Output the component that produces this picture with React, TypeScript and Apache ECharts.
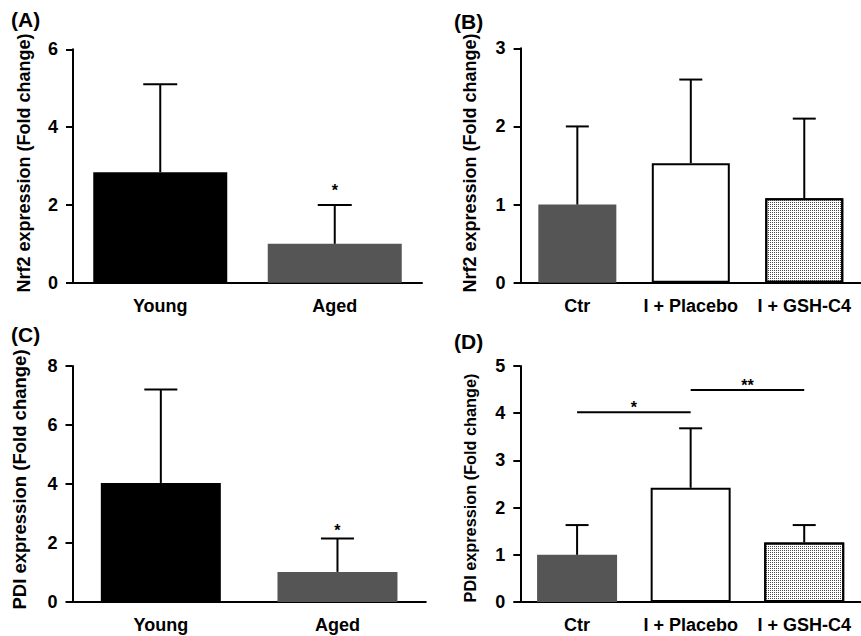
import React, { useEffect, useRef } from "react";
import * as echarts from "echarts";

const FONT = "'Liberation Sans', Arial, Helvetica, sans-serif";

// Categories
const ageCats = ["Young", "Aged"];
const treatCats = ["Ctr", "I + Placebo", "I + GSH-C4"];

// (A) Nrf2, young vs aged
const nrf2AgeMean = [2.84, 1.0];
const nrf2AgeSD = [2.26, 1.0];
const nrf2AgeTicks = [0, 2, 4, 6];
const nrf2AgeStars = [{ cat: 1, y: 2.47, text: "*" }];

// (B) Nrf2, treatments
const nrf2TreatMean = [1.0, 1.53, 1.08];
const nrf2TreatSD = [1.0, 1.07, 1.02];
const nrf2TreatTicks = [0, 1, 2, 3];

// (C) PDI, young vs aged
const pdiAgeMean = [4.03, 1.02];
const pdiAgeSD = [3.17, 1.13];
const pdiAgeTicks = [0, 2, 4, 6, 8];
const pdiAgeStars = [{ cat: 1, y: 2.55, text: "*" }];

// (D) PDI, treatments
const pdiTreatMean = [1.0, 2.42, 1.26];
const pdiTreatSD = [0.63, 1.26, 0.37];
const pdiTreatTicks = [0, 1, 2, 3, 4, 5];
const pdiTreatBrackets = [
  { from: 0, to: 1, y: 4.02, text: "*" },
  { from: 1, to: 2, y: 4.49, text: "**" },
];

const ageStyles = [
  { color: "#000000" },
  { color: "#555555" },
];
const treatStyles = [
  { color: "#555555" },
  { color: "#ffffff", borderColor: "#000", borderWidth: 2 },
  {
    color: "#ffffff",
    borderColor: "#000",
    borderWidth: 2,
    decal: {
      symbol: "rect",
      symbolSize: 1,
      dashArrayX: [1, 1],
      dashArrayY: [1, 1],
      color: "#4a4a4a",
      rotation: 0,
    },
  },
];

function axisPair(
  idx: number,
  cats: string[],
  ticks: number[],
  name: string,
  nameGap: number,
  nameSize: number,
  namePad: number[]
) {
  const xAxis = {
    type: "category",
    gridIndex: idx,
    data: cats,
    axisLine: { lineStyle: { color: "#000", width: 2 } },
    axisTick: { alignWithLabel: true, length: 7, lineStyle: { color: "#000", width: 2 } },
    axisLabel: { interval: 0, color: "#000", fontSize: 18, fontWeight: "bold", fontFamily: FONT, margin: 14 },
  };
  const yAxis = {
    type: "value",
    gridIndex: idx,
    min: ticks[0],
    max: ticks[ticks.length - 1],
    interval: ticks[1] - ticks[0],
    name,
    nameLocation: "middle",
    nameGap,
    nameTextStyle: { color: "#000", fontSize: nameSize, fontWeight: "bold", fontFamily: FONT, padding: namePad },
    axisLine: { show: true, lineStyle: { color: "#000", width: 2 } },
    axisTick: { show: true, length: 7, lineStyle: { color: "#000", width: 2 } },
    axisLabel: { color: "#000", fontSize: 18, fontWeight: "bold", fontFamily: FONT, margin: 15 },
    splitLine: { show: false },
  };
  return { xAxis, yAxis };
}

function barSeries(idx: number, means: number[], styles: any[], barWidth: number) {
  return {
    type: "bar",
    xAxisIndex: idx,
    yAxisIndex: idx,
    barWidth,
    z: 2,
    data: means.map((v, i) => ({ value: v, itemStyle: styles[i] })),
  };
}

function errSeries(idx: number, means: number[], sds: number[], cap: number) {
  return {
    type: "custom",
    xAxisIndex: idx,
    yAxisIndex: idx,
    z: 3,
    data: means.map((m, i) => [i, m, m + sds[i]]),
    renderItem: (params: any, api: any) => {
      const i = api.value(0);
      const p0 = api.coord([i, api.value(1)]);
      const p1 = api.coord([i, api.value(2)]);
      const st = { stroke: "#000", lineWidth: 2 };
      return {
        type: "group",
        children: [
          { type: "line", shape: { x1: p0[0], y1: p0[1], x2: p1[0], y2: p1[1] }, style: st },
          { type: "line", shape: { x1: p1[0] - cap / 2, y1: p1[1], x2: p1[0] + cap / 2, y2: p1[1] }, style: st },
        ],
      };
    },
  };
}

function starSeries(idx: number, stars: { cat: number; y: number; text: string }[]) {
  return {
    type: "custom",
    xAxisIndex: idx,
    yAxisIndex: idx,
    z: 4,
    data: stars.map((s) => [s.cat, s.y]),
    renderItem: (params: any, api: any) => {
      const p = api.coord([api.value(0), api.value(1)]);
      return {
        type: "text",
        x: p[0],
        y: p[1] + 4,
        style: {
          text: stars[params.dataIndex].text,
          fill: "#000",
          fontSize: 16,
          fontWeight: "bold",
          fontFamily: FONT,
          align: "center",
          verticalAlign: "middle",
        },
      };
    },
  };
}

function bracketSeries(idx: number, br: { from: number; to: number; y: number; text: string }[]) {
  return {
    type: "custom",
    xAxisIndex: idx,
    yAxisIndex: idx,
    z: 4,
    data: br.map((b) => [b.from, b.to, b.y]),
    renderItem: (params: any, api: any) => {
      const a = api.coord([api.value(0), api.value(2)]);
      const b = api.coord([api.value(1), api.value(2)]);
      return {
        type: "group",
        children: [
          { type: "line", shape: { x1: a[0], y1: a[1], x2: b[0], y2: b[1] }, style: { stroke: "#000", lineWidth: 2 } },
          {
            type: "text",
            x: (a[0] + b[0]) / 2,
            y: a[1] - 5,
            style: {
              text: br[params.dataIndex].text,
              fill: "#000",
              fontSize: 16,
              fontWeight: "bold",
              fontFamily: FONT,
              align: "center",
              verticalAlign: "middle",
            },
          },
        ],
      };
    },
  };
}

export default function App() {
  const ref = useRef<HTMLDivElement>(null);
  useEffect(() => {
    if (!ref.current) return;
    const chart = echarts.init(ref.current, null, { renderer: "svg" });
    const a = axisPair(0, ageCats, nrf2AgeTicks, "Nrf2 expression (Fold change)", 40, 18, [0, 0, 0, 6]);
    const b = axisPair(1, treatCats, nrf2TreatTicks, "Nrf2 expression (Fold change)", 42, 18, [0, 0, 0, 5]);
    const c = axisPair(2, ageCats, pdiAgeTicks, "PDI expression (Fold change)", 44, 18.5, [0, 0, 0, 9]);
    const d = axisPair(3, treatCats, pdiTreatTicks, "PDI expression (Fold change)", 42, 16.3, [0, 8, 0, 0]);
    const titleStyle = { color: "#000", fontSize: 21, fontWeight: "bold", fontFamily: FONT };
    chart.setOption({
      animation: false,
      backgroundColor: "#ffffff",
      title: [
        { text: "(A)", left: 11, top: 9, padding: 0, textStyle: titleStyle },
        { text: "(B)", left: 454, top: 10.5, padding: 0, textStyle: titleStyle },
        { text: "(C)", left: 11, top: 324, padding: 0, textStyle: titleStyle },
        { text: "(D)", left: 454, top: 330.5, padding: 0, textStyle: titleStyle },
      ],
      grid: [
        { left: 73, top: 49.3, width: 349, height: 233.4 },
        { left: 520.6, top: 48.3, width: 350, height: 234.4 },
        { left: 72.5, top: 366, width: 353.3, height: 236 },
        { left: 520.3, top: 366, width: 351, height: 236 },
      ],
      xAxis: [a.xAxis, b.xAxis, c.xAxis, d.xAxis],
      yAxis: [a.yAxis, b.yAxis, c.yAxis, d.yAxis],
      series: [
        barSeries(0, nrf2AgeMean, ageStyles, 134),
        errSeries(0, nrf2AgeMean, nrf2AgeSD, 34),
        starSeries(0, nrf2AgeStars),
        barSeries(1, nrf2TreatMean, treatStyles, 78),
        errSeries(1, nrf2TreatMean, nrf2TreatSD, 23),
        barSeries(2, pdiAgeMean, ageStyles, 120),
        errSeries(2, pdiAgeMean, pdiAgeSD, 33),
        starSeries(2, pdiAgeStars),
        barSeries(3, pdiTreatMean, treatStyles, 80),
        errSeries(3, pdiTreatMean, pdiTreatSD, 23),
        bracketSeries(3, pdiTreatBrackets),
      ],
    });
    return () => chart.dispose();
  }, []);
  return (
    <div
      ref={ref}
      style={{ position: "absolute", left: 0, top: 0, width: 861, height: 636, background: "#fff" }}
    />
  );
}
